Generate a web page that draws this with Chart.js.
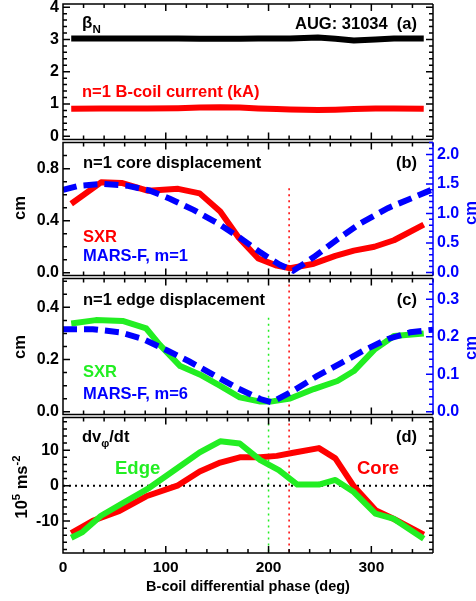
<!DOCTYPE html>
<html>
<head>
<meta charset="utf-8">
<script src="https://cdn.jsdelivr.net/npm/chart.js@4.4.1/dist/chart.umd.min.js"></script>
<style>
  html, body { margin: 0; padding: 0; background: #fff; }
  #page { position: relative; width: 476px; height: 601px; overflow: hidden; }
  canvas { position: absolute; left: 0; }
</style>
</head>
<body>
<div id="page">
  <canvas id="panelA" width="476" height="165" style="top:-12px"></canvas>
  <canvas id="panelB" width="476" height="160" style="top:129px"></canvas>
  <canvas id="panelC" width="476" height="163" style="top:265px"></canvas>
  <canvas id="panelD" width="476" height="197" style="top:404px"></canvas>
</div>
<script>
// ============================================================================
// DATA
// ============================================================================

// x axis: B-coil differential phase (deg)
const xMajor = [0, 100, 200, 300];

// (a) beta_N and n=1 coil current
const phaseA = [8, 37, 56, 82, 112, 133, 153, 172, 190, 208, 221, 248, 265, 283, 304, 322, 351];
const betaN = [3.03, 3.03, 3.03, 3.03, 3.03, 3.02, 3.02, 3.02, 3.03, 3.03, 3.03, 3.06, 3.02, 2.97, 3.0, 3.03, 3.03];
const coilCurrent = [0.85, 0.86, 0.86, 0.86, 0.87, 0.89, 0.9, 0.89, 0.86, 0.84, 0.83, 0.81, 0.82, 0.84, 0.86, 0.86, 0.85];
const ticksA = [0, 1, 2, 3, 4];

// (b) core displacement
const phaseCore = [8, 37, 57, 83, 112, 133, 153, 171, 190, 208, 221, 244, 265, 283, 303, 322, 351];
const sxrCore = [0.53, 0.695, 0.69, 0.63, 0.645, 0.61, 0.47, 0.27, 0.11, 0.055, 0.035, 0.07, 0.13, 0.17, 0.2, 0.25, 0.37];
const phaseMarsCore = [0, 16, 39, 62, 84, 104, 127, 150, 172, 192, 211, 224, 244, 267, 290, 316, 338, 360];
const marsCore = [1.4, 1.47, 1.5, 1.47, 1.39, 1.25, 1.06, 0.84, 0.59, 0.34, 0.13, 0.03, 0.26, 0.56, 0.84, 1.09, 1.25, 1.41];
const ticksB = [0, 0.4, 0.8];
const ticksBRight = [0, 0.5, 1, 1.5, 2];

// (c) edge displacement
const phaseEdge = [8, 32, 58, 81, 94, 114, 133, 153, 172, 192, 202, 221, 244, 267, 283, 303, 322, 351];
const sxrEdge = [0.338, 0.351, 0.348, 0.319, 0.257, 0.175, 0.143, 0.099, 0.055, 0.039, 0.039, 0.051, 0.087, 0.118, 0.156, 0.238, 0.29, 0.3];
const phaseMarsEdge = [0, 29, 55, 78, 101, 123, 146, 169, 192, 203, 224, 247, 270, 293, 316, 338, 360];
const marsEdge = [0.22, 0.22, 0.212, 0.194, 0.164, 0.134, 0.099, 0.064, 0.034, 0.025, 0.056, 0.095, 0.129, 0.164, 0.194, 0.212, 0.219];
const ticksC = [0, 0.2, 0.4];
const ticksCRight = [0, 0.1, 0.2, 0.3];

// (d) dv_phi/dt
const phaseDvCore = [8, 29, 55, 81, 112, 133, 153, 172, 192, 208, 224, 249, 265, 283, 304, 322, 351];
const dvCore = [-13.4, -9.9, -7.1, -3.0, 0.1, 4.0, 6.5, 8.0, 8.0, 8.4, 9.3, 10.6, 7.7, -0.2, -6.9, -9.4, -13.8];
const phaseDvEdge = [8, 19, 37, 57, 84, 110, 133, 153, 172, 192, 210, 228, 249, 265, 283, 304, 322, 351];
const dvEdge = [-14.7, -13.1, -8.5, -5.1, -0.6, 4.7, 9.4, 12.5, 11.9, 7.2, 4.4, 0.3, 0.3, 1.6, -1.8, -7.9, -9.4, -15.0];
const ticksD = [-10, 0, 10];

// phases of minimum displacement (dotted markers)
const coreMinPhase = 220;
const edgeMinPhase = 200;
const coreMarkerTopB = 0.65;
const edgeMarkerTopC = 0.36;

// ============================================================================
// HELPERS
// ============================================================================

const RED = '#ff0000';
const GREEN = '#22ee22';
const BLUE = '#0000ff';
const FONT = "'Liberation Sans', Arial, sans-serif";
const NOTE_SIZE = 16.5;

Chart.defaults.font.family = FONT;
Chart.defaults.font.weight = 'bold';
Chart.defaults.font.size = 16;
Chart.defaults.color = '#000';

const pts = (xs, ys) => xs.map((x, i) => ({ x, y: ys[i] }));

function solid(data, color) {
  return { data, borderColor: color, borderWidth: 6, pointRadius: 0, borderJoinStyle: 'round', fill: false };
}
function dashed(data, color) {
  return { data, borderColor: color, borderWidth: 6, pointRadius: 0, borderDash: [14, 7], fill: false };
}
function dotted(data, color, width) {
  return { data, borderColor: color, borderWidth: width || 1.5, pointRadius: 0, borderDash: [2, 4], fill: false };
}

// list of [value, isMajor] between min and max
function tickList(major, step, min, max) {
  const out = [];
  const first = Math.ceil(min / step - 1e-9);
  for (let i = first; i * step <= max + 1e-9; i++) {
    const v = i * step;
    out.push([v, major.some((m) => Math.abs(m - v) < step / 10)]);
  }
  return out;
}

function richText(ctx, parts, x, y, align, size, color, rotate) {
  ctx.save();
  ctx.translate(x, y);
  if (rotate) ctx.rotate(-Math.PI / 2);
  ctx.fillStyle = color;
  ctx.textBaseline = 'alphabetic';
  ctx.textAlign = 'left';
  const widths = parts.map(([t, mode]) => {
    ctx.font = `bold ${mode ? size * 0.68 : size}px ${FONT}`;
    return ctx.measureText(t).width;
  });
  const total = widths.reduce((a, b) => a + b, 0);
  let cx = align === 'right' ? -total : align === 'center' ? -total / 2 : 0;
  parts.forEach(([t, mode], i) => {
    ctx.font = `bold ${mode ? size * 0.68 : size}px ${FONT}`;
    const dy = mode === 'sub' ? size * 0.28 : mode === 'sup' ? -size * 0.45 : 0;
    ctx.fillText(t, cx, dy);
    cx += widths[i];
  });
  ctx.restore();
}

// ---------------------------------------------------------------------------
// Plugin: IDL-like frame with inward major/minor ticks
// ---------------------------------------------------------------------------
const idlFrame = {
  id: 'idlFrame',
  afterDatasetsDraw(chart, args, o) {
    const { ctx, chartArea: { left, right, top, bottom } } = chart;
    const sx = chart.scales.x, sy = chart.scales.y, sr = chart.scales.y2;
    ctx.save();
    ctx.lineWidth = 1.5;
    ctx.strokeStyle = '#000';
    ctx.beginPath();
    tickList(xMajor, 20, sx.min, sx.max).forEach(([v, major]) => {
      const p = sx.getPixelForValue(v);
      const len = major ? 7 : 4;
      ctx.moveTo(p, bottom); ctx.lineTo(p, bottom - len);
      ctx.moveTo(p, top); ctx.lineTo(p, top + len);
    });
    tickList(o.left.major, o.left.minor, sy.min, sy.max).forEach(([v, major]) => {
      const p = sy.getPixelForValue(v);
      const len = major ? 7 : 4;
      ctx.moveTo(left, p); ctx.lineTo(left + len, p);
      if (!sr) { ctx.moveTo(right, p); ctx.lineTo(right - len, p); }
    });
    ctx.moveTo(right, top); ctx.lineTo(left, top); ctx.lineTo(left, bottom); ctx.lineTo(right, bottom);
    if (!sr) { ctx.moveTo(right, top); ctx.lineTo(right, bottom); }
    ctx.stroke();

    if (sr) {
      ctx.strokeStyle = BLUE;
      ctx.beginPath();
      tickList(o.right.major, o.right.minor, sr.min, sr.max).forEach(([v, major]) => {
        const p = sr.getPixelForValue(v);
        const len = major ? 7 : 4;
        ctx.moveTo(right, p); ctx.lineTo(right - len, p);
      });
      ctx.moveTo(right, top); ctx.lineTo(right, bottom);
      ctx.stroke();
    }
    ctx.restore();
  },
  afterDraw(chart, args, o) {
    const dy = -o.offset;
    (o.notes || []).forEach((n) => {
      richText(chart.ctx, n.parts, n.x, n.y + dy, n.align || 'left', n.size || NOTE_SIZE, n.color || '#000', n.rotate);
    });
  }
};

// ---------------------------------------------------------------------------
// Panel builder
// ---------------------------------------------------------------------------
function buildPanel(canvasId, cfg) {
  const showX = !!cfg.showX;
  const scales = {
    x: {
      type: 'linear', min: 0, max: 360, display: showX,
      grid: { display: false, drawTicks: false }, border: { display: false },
      ticks: { padding: 5, font: { size: 15.5 } },
      afterBuildTicks: (s) => { s.ticks = xMajor.map((v) => ({ value: v })); },
      afterFit: (s) => { if (showX) s.height = 48; },
      title: { display: showX, text: 'B-coil differential phase (deg)', font: { size: 14.5 }, padding: { top: 0, bottom: 5 } }
    },
    y: {
      type: 'linear', position: 'left', min: cfg.left.min, max: cfg.left.max,
      grid: { display: false, drawTicks: false }, border: { display: false },
      ticks: { padding: 4, callback: cfg.left.fmt },
      afterBuildTicks: (s) => { s.ticks = cfg.left.major.map((v) => ({ value: v })); },
      afterFit: (s) => { s.width = 63; }
    }
  };
  if (cfg.right) {
    scales.y2 = {
      type: 'linear', position: 'right', min: cfg.right.min, max: cfg.right.max,
      grid: { display: false, drawTicks: false }, border: { display: false },
      ticks: { padding: 4, color: BLUE, callback: cfg.right.fmt },
      afterBuildTicks: (s) => { s.ticks = cfg.right.major.map((v) => ({ value: v })); },
      afterFit: (s) => { s.width = 43; }
    };
  }
  return new Chart(document.getElementById(canvasId), {
    type: 'line',
    data: { datasets: cfg.datasets },
    options: {
      responsive: false,
      animation: false,
      devicePixelRatio: 1,
      layout: { padding: { top: cfg.padTop, bottom: cfg.padBottom, left: 0, right: cfg.right ? 0 : 43 } },
      scales,
      plugins: {
        legend: { display: false },
        tooltip: { enabled: false },
        idlFrame: { left: cfg.left, right: cfg.right, notes: cfg.notes, offset: cfg.offset }
      }
    },
    plugins: [idlFrame]
  });
}

// ============================================================================
// PANELS
// ============================================================================

buildPanel('panelA', {
  offset: -12, padTop: 16, padBottom: 12,
  left: { min: -0.1, max: 4.1, major: ticksA, minor: 0.2, fmt: (v) => String(v) },
  datasets: [
    solid(pts(phaseA, betaN), '#000'),
    solid(pts(phaseA, coilCurrent), RED)
  ],
  notes: [
    { parts: [['β'], ['N', 'sub']], x: 82, y: 28, size: 17 },
    { parts: [['AUG: 31034  (a)']], x: 417, y: 29, align: 'right' },
    { parts: [['n=1 B-coil current (kA)']], x: 82, y: 97, color: RED }
  ]
});

buildPanel('panelB', {
  offset: 129, padTop: 12, padBottom: 12,
  left: { min: -0.02, max: 1.0, major: ticksB, minor: 0.1, fmt: (v) => v.toFixed(1) },
  right: { min: -0.05, max: 2.2, major: ticksBRight, minor: 0.1, fmt: (v) => v.toFixed(1) },
  datasets: [
    { ...dashed(pts(phaseMarsCore, marsCore), BLUE), yAxisID: 'y2' },
    solid(pts(phaseCore, sxrCore), RED),
    dotted([{ x: coreMinPhase, y: coreMarkerTopB }, { x: coreMinPhase, y: -0.02 }], RED)
  ],
  notes: [
    { parts: [['n=1 core displacement']], x: 83, y: 168 },
    { parts: [['(b)']], x: 417, y: 168, align: 'right' },
    { parts: [['SXR']], x: 83, y: 242, color: RED },
    { parts: [['MARS-F, m=1']], x: 83, y: 261, color: BLUE },
    { parts: [['cm']], x: 25, y: 208, align: 'center', rotate: true },
    { parts: [['cm']], x: 476, y: 213, align: 'center', rotate: true, color: BLUE }
  ]
});

buildPanel('panelC', {
  offset: 265, padTop: 12, padBottom: 12,
  left: { min: -0.01, max: 0.51, major: ticksC, minor: 0.05, fmt: (v) => v.toFixed(1) },
  right: { min: -0.007, max: 0.355, major: ticksCRight, minor: 0.02, fmt: (v) => v.toFixed(1) },
  datasets: [
    { ...dashed(pts(phaseMarsEdge, marsEdge), BLUE), yAxisID: 'y2' },
    solid(pts(phaseEdge, sxrEdge), GREEN),
    dotted([{ x: coreMinPhase, y: 0.51 }, { x: coreMinPhase, y: -0.01 }], RED),
    dotted([{ x: edgeMinPhase, y: edgeMarkerTopC }, { x: edgeMinPhase, y: -0.01 }], GREEN)
  ],
  notes: [
    { parts: [['n=1 edge displacement']], x: 83, y: 305 },
    { parts: [['(c)']], x: 417, y: 305, align: 'right' },
    { parts: [['SXR']], x: 83, y: 377, color: GREEN },
    { parts: [['MARS-F, m=6']], x: 83, y: 398.5, color: BLUE },
    { parts: [['cm']], x: 25, y: 347, align: 'center', rotate: true },
    { parts: [['cm']], x: 476, y: 348, align: 'center', rotate: true, color: BLUE }
  ]
});

buildPanel('panelD', {
  offset: 404, padTop: 12, padBottom: 0, showX: true,
  left: { min: -19, max: 19.2, major: ticksD, minor: 2, fmt: (v) => String(v) },
  datasets: [
    solid(pts(phaseDvEdge, dvEdge), GREEN),
    solid(pts(phaseDvCore, dvCore), RED),
    dotted([{ x: 0, y: 0 }, { x: 360, y: 0 }], '#000', 2),
    dotted([{ x: coreMinPhase, y: 19.2 }, { x: coreMinPhase, y: -19 }], RED),
    dotted([{ x: edgeMinPhase, y: 19.2 }, { x: edgeMinPhase, y: -19 }], GREEN)
  ],
  notes: [
    { parts: [['dv'], ['φ', 'sub'], ['/dt']], x: 82, y: 442 },
    { parts: [['(d)']], x: 417, y: 442, align: 'right' },
    { parts: [['Edge']], x: 115, y: 474, size: 18.5, color: GREEN },
    { parts: [['Core']], x: 357, y: 474, size: 18.5, color: RED },
    { parts: [['10'], ['5', 'sup'], [' ms'], ['-2', 'sup']], x: 27, y: 487, align: 'center', rotate: true }
  ]
});
</script>
</body>
</html>
